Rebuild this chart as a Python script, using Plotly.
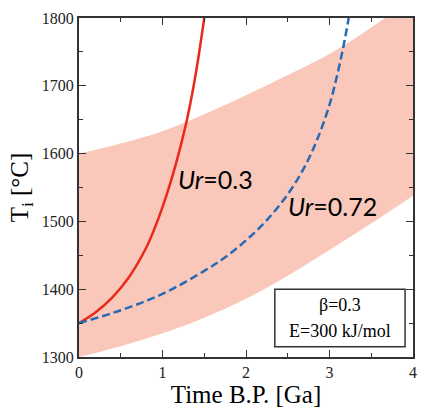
import plotly.graph_objects as go

# Band (range of initial temperatures)
band_t = [0, 0.5, 1.0, 1.5, 2.0, 2.5, 3.0, 3.5, 4.0]
band_low = [1300, 1316, 1335, 1358, 1386, 1420, 1458, 1497, 1538]
band_high = [1600, 1615, 1633, 1658, 1686, 1716, 1747, 1786, 1830]

# Ur = 0.3 (red solid)
red_t = [0, 0.2, 0.4, 0.6, 0.8, 0.9, 1.0, 1.1, 1.2, 1.3, 1.4, 1.5]
red_T = [1350, 1366, 1388, 1418, 1460, 1488, 1521, 1559, 1603, 1654, 1719, 1800]

# Ur = 0.72 (blue dashed)
blue_t = [0, 0.5, 1.0, 1.5, 1.75, 2.0, 2.25, 2.5, 2.7, 2.85, 3.0, 3.1, 3.17, 3.23]
blue_T = [1350, 1369, 1393, 1427, 1447, 1472, 1502, 1540, 1580, 1620, 1672, 1720, 1760, 1800]

x_ticks = [0, 1, 2, 3, 4]
y_ticks = [1300, 1400, 1500, 1600, 1700, 1800]

band_color = "rgb(250,200,186)"
red = "rgb(235,40,25)"
blue = "rgb(40,105,180)"
axis_col = "#333333"
serif = "Liberation Serif, Times New Roman, serif"
sans = "Lato, Open Sans, sans-serif"

fig = go.Figure()
fig.add_trace(go.Scatter(x=band_t, y=band_low, mode="lines", line=dict(width=0, shape="spline"),
                         showlegend=False, hoverinfo="skip"))
fig.add_trace(go.Scatter(x=band_t, y=band_high, mode="lines", line=dict(width=0, shape="spline"),
                         fill="tonexty", fillcolor=band_color, showlegend=False, hoverinfo="skip"))
fig.add_trace(go.Scatter(x=red_t, y=red_T, mode="lines", line=dict(color=red, width=2.5, shape="spline"),
                         showlegend=False))
fig.add_trace(go.Scatter(x=blue_t, y=blue_T, mode="lines",
                         line=dict(color=blue, width=2.5, dash="8px,4px", shape="spline"),
                         showlegend=False))

fig.add_annotation(x=1.16, y=1563, xref="x", yref="y", xanchor="left", yanchor="middle",
                   text="<i>Ur</i>=0.3", showarrow=False,
                   font=dict(family=sans, size=25, color="black"))
fig.add_annotation(x=2.48, y=1522, xref="x", yref="y", xanchor="left", yanchor="middle",
                   text="<i>Ur</i>=0.72", showarrow=False,
                   font=dict(family=sans, size=25, color="black"))

fig.add_shape(type="rect", xref="x", yref="y", x0=2.345, x1=3.905, y0=1315, y1=1400,
              line=dict(color=axis_col, width=1.5), fillcolor="white", layer="above")
fig.add_annotation(x=3.125, y=1376, xref="x", yref="y", text="β=0.3", showarrow=False,
                   font=dict(family=serif, size=18, color="black"))
fig.add_annotation(x=3.125, y=1338, xref="x", yref="y", text="E=300 kJ/mol", showarrow=False,
                   font=dict(family=serif, size=18, color="black"))

fig.update_xaxes(range=[0, 4], tickvals=x_ticks, ticks="inside", ticklen=7, tickwidth=1.2,
                 tickcolor=axis_col, showline=True, linecolor=axis_col, linewidth=2,
                 mirror="ticks", showgrid=False, zeroline=False,
                 minor=dict(ticks="inside", ticklen=4, dtick=0.5, tickcolor=axis_col, tickwidth=1.2),
                 tickfont=dict(family=serif, size=16, color="#222"),
                 title=dict(text="Time B.P. [Ga]", font=dict(family=serif, size=25, color="black"),
                            standoff=4))
fig.update_yaxes(range=[1300, 1800], tickvals=y_ticks, ticks="inside", ticklen=7, tickwidth=1.2,
                 tickcolor=axis_col, showline=True, linecolor=axis_col, linewidth=2,
                 mirror="ticks", showgrid=False, zeroline=False,
                 minor=dict(ticks="inside", ticklen=4, dtick=50, tickcolor=axis_col, tickwidth=1.2),
                 tickfont=dict(family=serif, size=16, color="#222"),
                 title=dict(text="T<sub>i</sub> [°C]", font=dict(family=serif, size=25, color="black"),
                            standoff=6))

fig.update_layout(width=421, height=408, margin=dict(l=79, r=4, t=18, b=51),
                  plot_bgcolor="white", paper_bgcolor="white")

fig.write_html("out.html")
